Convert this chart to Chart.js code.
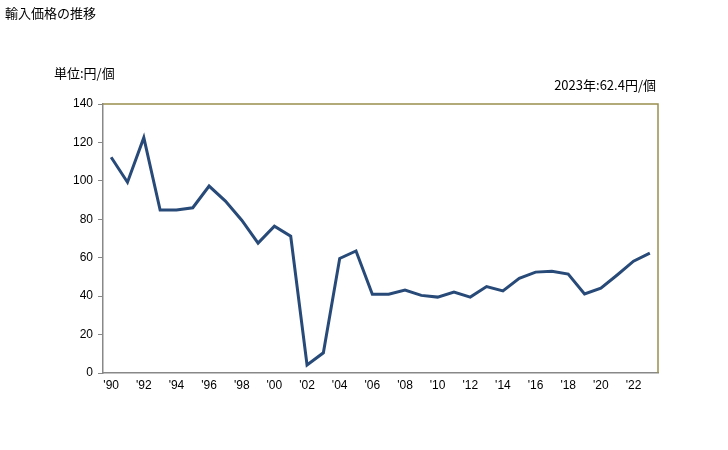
<!DOCTYPE html>
<html>
<head>
<meta charset="utf-8">
<script src="https://cdn.jsdelivr.net/npm/chart.js@4"></script>
<style>
  html, body { margin: 0; padding: 0; background: #fff; }
  #wrap { position: relative; width: 728px; height: 450px; }
  .txt { position: absolute; font-family: "Noto Sans CJK JP", sans-serif; font-size: 13px; color: #000; white-space: nowrap; }
  #title { left: 5px; top: 3px; }
  #unit { left: 54px; top: 63px; }
  #latest { right: 72px; top: 75px; }
</style>
</head>
<body>
<div id="wrap">
  <canvas id="chart" width="728" height="450"></canvas>
  <div class="txt" id="title">輸入価格の推移</div>
  <div class="txt" id="unit">単位:円/個</div>
  <div class="txt" id="latest">2023年:62.4円/個</div>
</div>
<script>
// 年（カテゴリ）
const years = [1990, 1991, 1992, 1993, 1994, 1995, 1996, 1997, 1998, 1999,
  2000, 2001, 2002, 2003, 2004, 2005, 2006, 2007, 2008, 2009,
  2010, 2011, 2012, 2013, 2014, 2015, 2016, 2017, 2018, 2019,
  2020, 2021, 2022, 2023];
// 輸入価格（円/個）
const prices = [112.3, 99.3, 122.5, 84.8, 84.8, 86.0, 97.3, 89.5, 79.5, 67.6,
  76.4, 71.2, 4.2, 10.5, 59.6, 63.5, 41.0, 41.0, 43.2, 40.4,
  39.5, 42.1, 39.5, 45.0, 42.7, 49.3, 52.5, 53.0, 51.5, 41.1,
  44.1, 51.0, 58.2, 62.4];
// 目盛
const yTicks = [0, 20, 40, 60, 80, 100, 120, 140];
const xLabels = years.map(y => "'" + String(y).slice(2));

// 上・右の枠線
const frame = {
  id: 'frame',
  afterDraw(chart) {
    const { ctx, chartArea: a } = chart;
    ctx.save();
    ctx.strokeStyle = '#9a8f4e';
    ctx.lineWidth = 1.5;
    ctx.beginPath();
    ctx.moveTo(a.left, a.top);
    ctx.lineTo(a.right, a.top);
    ctx.lineTo(a.right, a.bottom);
    ctx.stroke();
    ctx.restore();
  }
};

const ctx = document.getElementById('chart').getContext('2d');
new Chart(ctx, {
  type: 'line',
  data: {
    labels: xLabels,
    datasets: [{
      data: prices,
      borderColor: '#284a78',
      borderWidth: 3,
      pointRadius: 0,
      tension: 0,
      fill: false
    }]
  },
  options: {
    responsive: false,
    animation: false,
    layout: { padding: { left: 0, right: 70, top: 104, bottom: 0 } },
    plugins: { legend: { display: false }, tooltip: { enabled: false } },
    scales: {
      x: {
        offset: true,
        afterFit: s => { s.height = 77; },
        grid: { display: true, drawOnChartArea: false, drawTicks: false },
        border: { display: true, color: '#888', width: 1.5 },
        ticks: {
          autoSkip: false,
          maxRotation: 0,
          padding: 5,
          color: '#000',
          font: { family: 'Liberation Sans', size: 12 },
          callback: (v, i) => (i % 2 === 0 ? xLabels[i] : '')
        }
      },
      y: {
        min: 0,
        max: 140,
        afterFit: s => { s.width = 103; },
        afterBuildTicks: s => { s.ticks = yTicks.map(v => ({ value: v })); },
        grid: { display: true, drawOnChartArea: false, drawTicks: true, tickLength: 5, color: '#888' },
        border: { display: true, color: '#888', width: 1.5 },
        ticks: {
          padding: 5,
          color: '#000',
          font: { family: 'Liberation Sans', size: 12 }
        }
      }
    }
  },
  plugins: [frame]
});
</script>
</body>
</html>
